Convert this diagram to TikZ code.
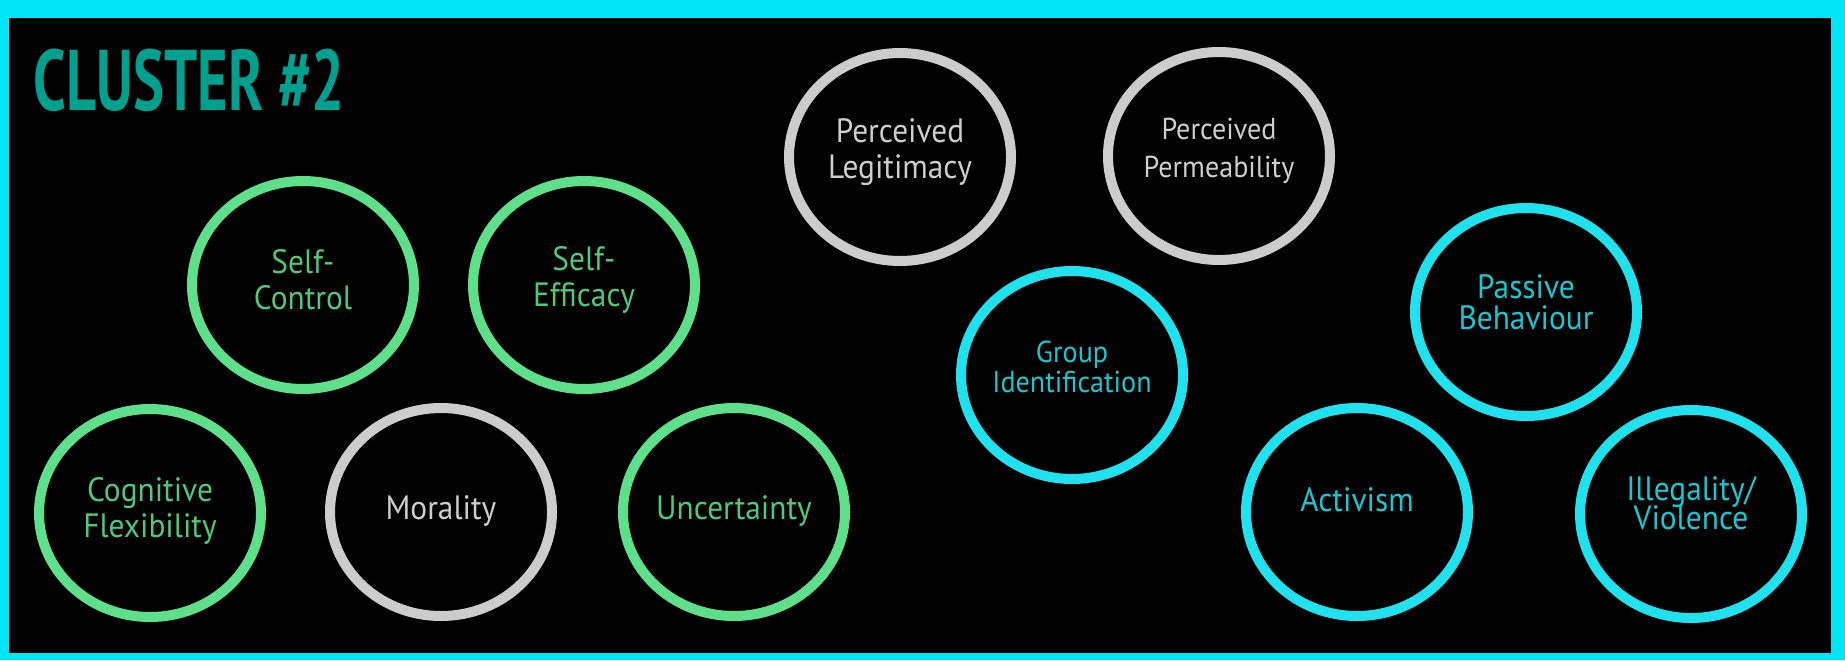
\documentclass[tikz,border=0pt]{standalone}
\usepackage{fontspec}
\setmainfont{PT Sans}[FakeStretch=0.93]
\newfontfamily\titlefont{PT Sans}[FakeStretch=0.68]
\usetikzlibrary{shapes.geometric}
\definecolor{framecyan}{RGB}{0,229,245}
\definecolor{ringgreen}{RGB}{94,224,138}
\definecolor{textgreen}{RGB}{80,200,122}
\definecolor{ringgrey}{RGB}{204,204,204}
\definecolor{textgrey}{RGB}{205,205,205}
\definecolor{ringcyan}{RGB}{32,226,238}
\definecolor{textcyan}{RGB}{26,198,208}
\definecolor{titleteal}{RGB}{0,160,145}
\tikzset{
	bubble/.style={ellipse, draw, line width=1mm, minimum width=2.22cm, minimum height=2.08cm, inner sep=0pt},
	greenbubble/.style={bubble, draw=ringgreen},
	greybubble/.style={bubble, draw=ringgrey},
	cyanbubble/.style={bubble, draw=ringcyan},
	caption/.style={align=center, inner sep=0pt, font=\fontsize{9.6}{10.2}\selectfont},
	greentext/.style={caption, text=textgreen},
	greytext/.style={caption, text=textgrey},
	cyantext/.style={caption, text=textcyan},
	smalltext/.style={font=\fontsize{8.6}{8.6}\selectfont}
}
\begin{document}
\begin{tikzpicture}
	\fill[framecyan] (0, 0) rectangle (18.45, 6.60);
	\fill[black] (0.09, 0.07) rectangle (18.31, 6.42);
	\node[anchor=base west, inner sep=0pt, text=titleteal, font=\titlefont\bfseries\fontsize{24.5}{24.5}\selectfont] (title) at (0.33, 5.50) {CLUSTER \#2};
	\node[greenbubble, label={[greentext, yshift=0.05cm]center:Self-\\Control}] (selfcontrol) at (3.03, 3.75) {};
	\node[greenbubble, label={[greentext, yshift=0.05cm]center:Self-\\Efficacy}] (selfefficacy) at (5.84, 3.75) {};
	\node[greenbubble, label={[greentext, yshift=0.02cm]center:Cognitive\\Flexibility}] (cogflex) at (1.50, 1.47) {};
	\node[greybubble, label={[greytext, yshift=0.01cm]center:Morality}] (morality) at (4.41, 1.48) {};
	\node[greenbubble, label={[greentext, yshift=0.01cm]center:Uncertainty}] (uncertainty) at (7.34, 1.48) {};
	\node[greybubble, label={[greytext, yshift=0.05cm]center:Perceived\\Legitimacy}] (legitimacy) at (9.00, 5.03) {};
	\node[greybubble, label={[greytext, smalltext, yshift=0.05cm]center:Perceived\\[2pt]Permeability}] (permeability) at (12.19, 5.04) {};
	\node[cyanbubble, label={[cyantext, smalltext, yshift=0.08cm]center:Group\\Identification}] (groupid) at (10.72, 2.85) {};
	\node[cyanbubble, label={[cyantext, yshift=0.10cm]center:Passive\\[-1.5pt]Behaviour}] (passive) at (15.26, 3.48) {};
	\node[cyanbubble, label={[cyantext, yshift=0.12cm]center:Activism}] (activism) at (13.57, 1.48) {};
	\node[cyanbubble, label={[cyantext, yshift=0.11cm]center:Illegality/\\[-2pt]Violence}] (illegality) at (16.91, 1.46) {};
\end{tikzpicture}
\end{document}
